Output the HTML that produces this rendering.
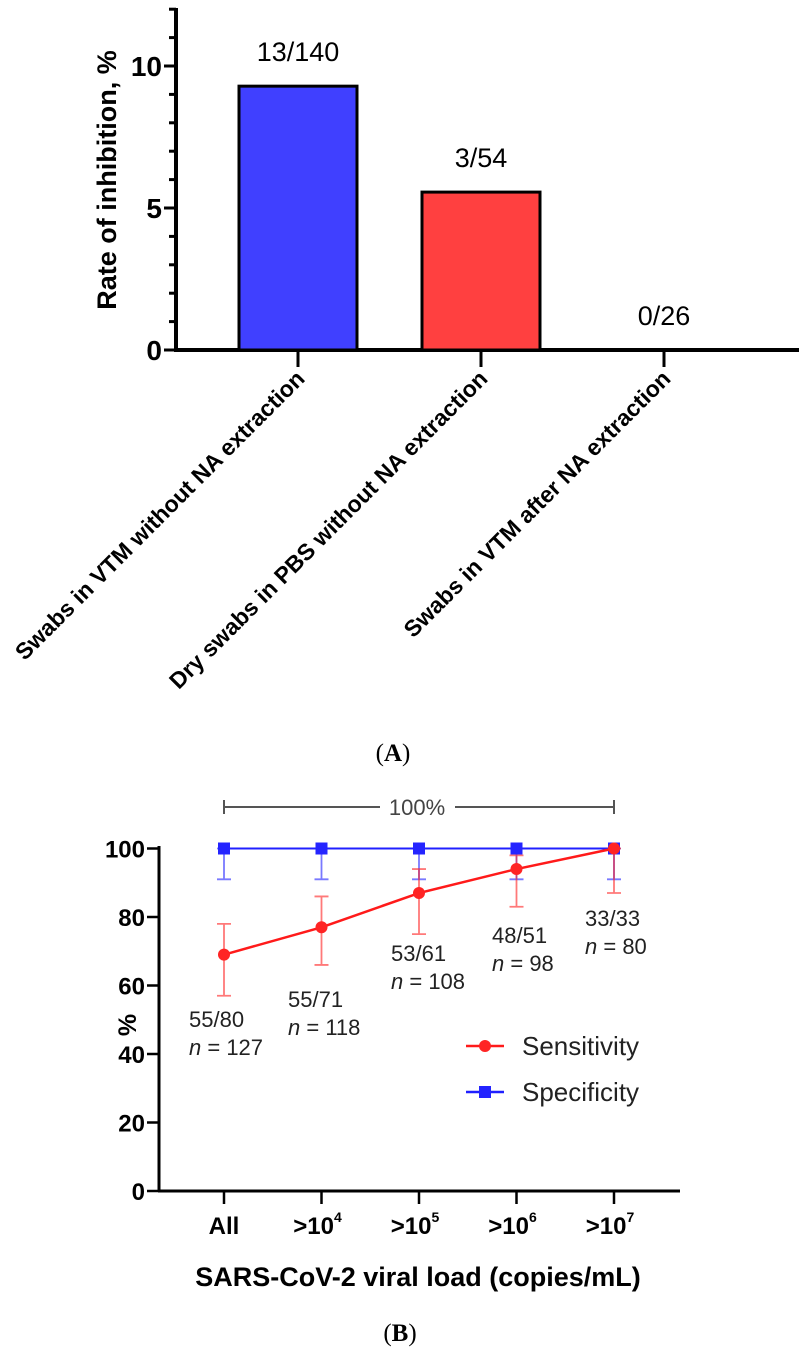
<!DOCTYPE html>
<html><head><meta charset="utf-8">
<style>
html,body{margin:0;padding:0;background:#fff;}
svg{display:block;font-family:"Liberation Sans",Arial,sans-serif;}
</style></head>
<body>
<svg width="799" height="1357" viewBox="0 0 799 1357" xmlns="http://www.w3.org/2000/svg">
<g id="chartA"></g>
<text x="393" y="761" text-anchor="middle" font-family="Liberation Serif,serif" font-size="25">(<tspan font-weight="bold">A</tspan>)</text>
<g id="chartB"></g>
<text x="400" y="1341" text-anchor="middle" font-family="Liberation Serif,serif" font-size="25">(<tspan font-weight="bold">B</tspan>)</text>
</svg>
<script>
const NS="http://www.w3.org/2000/svg";
// Chart A data
const catsA=["Swabs in VTM without NA extraction","Dry swabs in PBS without NA extraction","Swabs in VTM after NA extraction"];
const valsA=[9.29,5.56,0];
const labelsA=["13/140","3/54","0/26"];
const colorsA=["#4040ff","#ff4040","#888"];
const ticksA=[0,5,10];
// Chart B data
const catsB=["All","10^4","10^5","10^6","10^7"];
const sens=[69,77,87,94,100];
const sensLo=[57,66,75,83,87];
const sensHi=[78,86,94,98,100];
const spec=[100,100,100,100,100];
const specLo=[91,91,91,91,91];
const specHi=[100,100,100,100,100];
const annTop=["55/80","55/71","53/61","48/51","33/33"];
const annN=["127","118","108","98","80"];
const ticksB=[0,20,40,60,80,100];

function el(parent,tag,attrs,text){const e=document.createElementNS(NS,tag);for(const k in attrs)e.setAttribute(k,attrs[k]);if(text!==undefined)e.textContent=text;parent.appendChild(e);return e;}

// ---- Chart A ----
(function(){
const g=document.getElementById('chartA');
const y=v=>350-v*28.4;
const x=i=>298+i*183;
const axX=176;
let e;
e=el(g,'line',{x1:axX,y1:8,x2:axX,y2:352,stroke:'#000','stroke-width':4});

e=el(g,'line',{x1:axX-2,y1:350,x2:799,y2:350,stroke:'#000','stroke-width':4});

for(let v=0;v<=12;v++){const big=v%5===0;
 e=el(g,'line',{x1:axX-(big?12:7),y1:y(v),x2:axX,y2:y(v),stroke:'#000','stroke-width':3});
 }
ticksA.forEach(v=>{e=el(g,'text',{x:axX-14,y:y(v)+10,'text-anchor':'end','font-size':28,'font-weight':'bold'},String(v));
 });
e=el(g,'text',{transform:'translate(116,180) rotate(-90)','text-anchor':'middle','font-size':27,'font-weight':'bold'},'Rate of inhibition, %');

valsA.forEach((v,i)=>{
 const cx=x(i);
 if(v>0){e=el(g,'rect',{x:cx-59,y:y(v),width:118,height:350-y(v),fill:colorsA[i],stroke:'#000','stroke-width':3});
 }
 e=el(g,'text',{x:cx,y:y(v)-25,'text-anchor':'middle','font-size':27},labelsA[i]);
 
 e=el(g,'line',{x1:cx,y1:350,x2:cx,y2:367,stroke:'#000','stroke-width':3});
 
 e=el(g,'text',{transform:`translate(${cx+8},380) rotate(-45)`,'text-anchor':'end','font-size':23,'font-weight':'bold'},catsA[i]);
 
});
})();

// ---- Chart B ----
(function(){
const g=document.getElementById('chartB');
const y=v=>1191-v*3.425;
const x=i=>224+i*97.5;
const axX=159;
let e;
e=el(g,'line',{x1:axX,y1:846,x2:axX,y2:1192,stroke:'#000','stroke-width':3});

e=el(g,'line',{x1:axX-1,y1:1191,x2:680,y2:1191,stroke:'#000','stroke-width':3});

ticksB.forEach(v=>{
 e=el(g,'line',{x1:axX-12,y1:y(v),x2:axX,y2:y(v),stroke:'#000','stroke-width':2.5});
 
 e=el(g,'text',{x:axX-14,y:y(v)+9,'text-anchor':'end','font-size':24,'font-weight':'bold'},String(v));
 
});
e=el(g,'text',{transform:'translate(136,1025) rotate(-90)','text-anchor':'middle','font-size':25,'font-weight':'bold'},'%');

catsB.forEach((c,i)=>{
 e=el(g,'line',{x1:x(i),y1:1191,x2:x(i),y2:1204,stroke:'#000','stroke-width':2.5});
 
 let t;
 if(c==='All'){t=el(g,'text',{x:x(i),y:1234,'text-anchor':'middle','font-size':24,'font-weight':'bold'},'All');}
 else{t=el(g,'text',{x:x(i)-4,y:1234,'text-anchor':'middle','font-size':24,'font-weight':'bold'},'>10');
  el(t,'tspan',{dy:-12,'font-size':14},c.split('^')[1]);}
 
});
e=el(g,'text',{x:418,y:1286,'text-anchor':'middle','font-size':27,'font-weight':'bold'},'SARS-CoV-2 viral load (copies/mL)');

// bracket
e=el(g,'path',{d:`M${x(0)} 800V814M${x(0)} 807H380M455 807H${x(4)}M${x(4)} 800V814`,stroke:'#555','stroke-width':2,fill:'none'});

e=el(g,'text',{x:417,y:815,'text-anchor':'middle','font-size':22,fill:'#444'},'100%');

// error bars
function errs(lo,hi,col,name){lo.forEach((l,i)=>{
 e=el(g,'path',{d:`M${x(i)} ${y(l)}V${y(hi[i])}M${x(i)-7} ${y(l)}h14M${x(i)-7} ${y(hi[i])}h14`,stroke:col,'stroke-width':1.8,fill:'none',opacity:0.6});
 });}
errs(specLo,specHi,'#2020ff','specificity-error-bar');
errs(sensLo,sensHi,'#ff2020','sensitivity-error-bar');
// lines
e=el(g,'polyline',{points:spec.map((v,i)=>x(i)+','+y(v)).join(' '),stroke:'#2020ff','stroke-width':2,fill:'none'});

spec.forEach((v,i)=>{e=el(g,'rect',{x:x(i)-6,y:y(v)-6,width:12,height:12,fill:'#2424ff'});
 });
e=el(g,'polyline',{points:sens.map((v,i)=>x(i)+','+y(v)).join(' '),stroke:'#ff1a1a','stroke-width':2.5,fill:'none'});

sens.forEach((v,i)=>{e=el(g,'circle',{cx:x(i),cy:y(v),r:6,fill:'#ff2424'});
 });
// annotations
const annX=[189,288,391,492,585];
const annY=[1027,1007,961,943,926];
annTop.forEach((t,i)=>{
 e=el(g,'text',{x:annX[i],y:annY[i],'font-size':22,fill:'#222'},t);
 
 e=el(g,'text',{x:annX[i],y:annY[i]+28,'font-size':22,fill:'#222'});
 el(e,'tspan',{'font-style':'italic'},'n');el(e,'tspan',{},' = '+annN[i]);
 
});
// legend
e=el(g,'line',{x1:466,y1:1046,x2:504,y2:1046,stroke:'#ff1a1a','stroke-width':2.5});

e=el(g,'circle',{cx:485,cy:1046,r:6,fill:'#ff2424'});

e=el(g,'text',{x:522,y:1055,'font-size':26,fill:'#222'},'Sensitivity');

e=el(g,'line',{x1:466,y1:1092,x2:504,y2:1092,stroke:'#2020ff','stroke-width':2.5});

e=el(g,'rect',{x:479,y:1086,width:12,height:12,fill:'#2424ff'});

e=el(g,'text',{x:522,y:1101,'font-size':26,fill:'#222'},'Specificity');

})();
</script>
</body></html>
